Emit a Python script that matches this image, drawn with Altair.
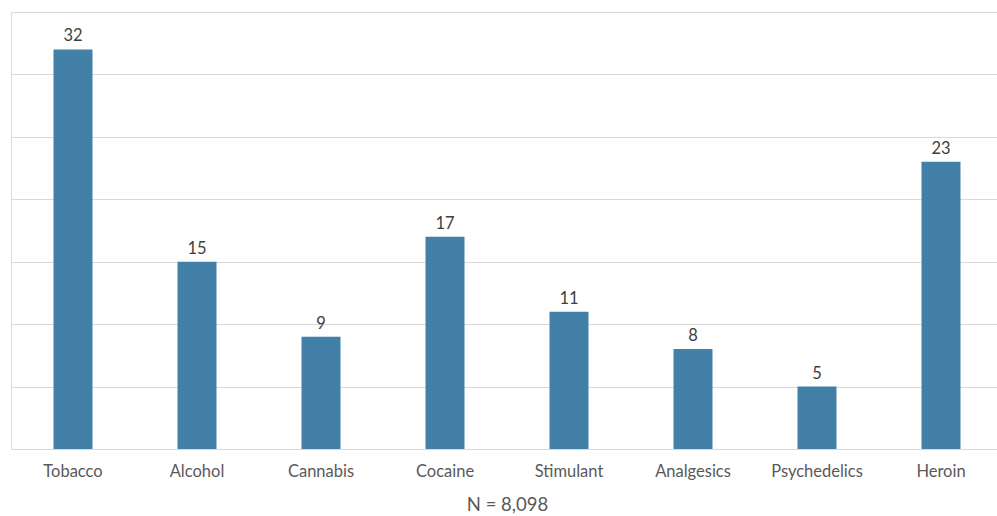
import altair as alt
import pandas as pd

categories = ["Tobacco", "Alcohol", "Cannabis", "Cocaine", "Stimulant", "Analgesics", "Psychedelics", "Heroin"]
values = [32, 15, 9, 17, 11, 8, 5, 23]

df = pd.DataFrame({"cat": categories, "val": values})

x = alt.X("cat:N", sort=categories,
          scale=alt.Scale(range=[0, 992], paddingInner=0.6855, paddingOuter=0.34275),
          axis=alt.Axis(title="N = 8,098", labelAngle=0, labelFont="Lato", labelFontSize=16.5,
                        labelColor="#595959", labelPadding=14, ticks=False, domain=False,
                        titleFont="Lato", titleFontSize=18.5, titleFontWeight="normal",
                        titleColor="#595959", titlePadding=16))
y = alt.Y("val:Q", scale=alt.Scale(domain=[0, 35], nice=False),
          axis=alt.Axis(title=None, labels=False, ticks=False, domain=False,
                        values=[0, 5, 10, 15, 20, 25, 30, 35], gridColor="#d9d9d9", gridWidth=1))

bars = alt.Chart(df).mark_bar(color="#4280a7").encode(x=x, y=y)
text = alt.Chart(df).mark_text(dy=-13, font="Lato", fontSize=16.5, color="#404040").encode(
    x=alt.X("cat:N", sort=categories), y="val:Q", text="val:Q")

chart = (bars + text).properties(
    width=986, height=437, autosize=alt.AutoSizeParams(type="none"),
    padding={"left": 11, "top": 12, "right": 0, "bottom": 67}
).configure_view(stroke=None).configure(background="white")

chart.save("out.html", embed_options={"renderer": "svg", "actions": False})
